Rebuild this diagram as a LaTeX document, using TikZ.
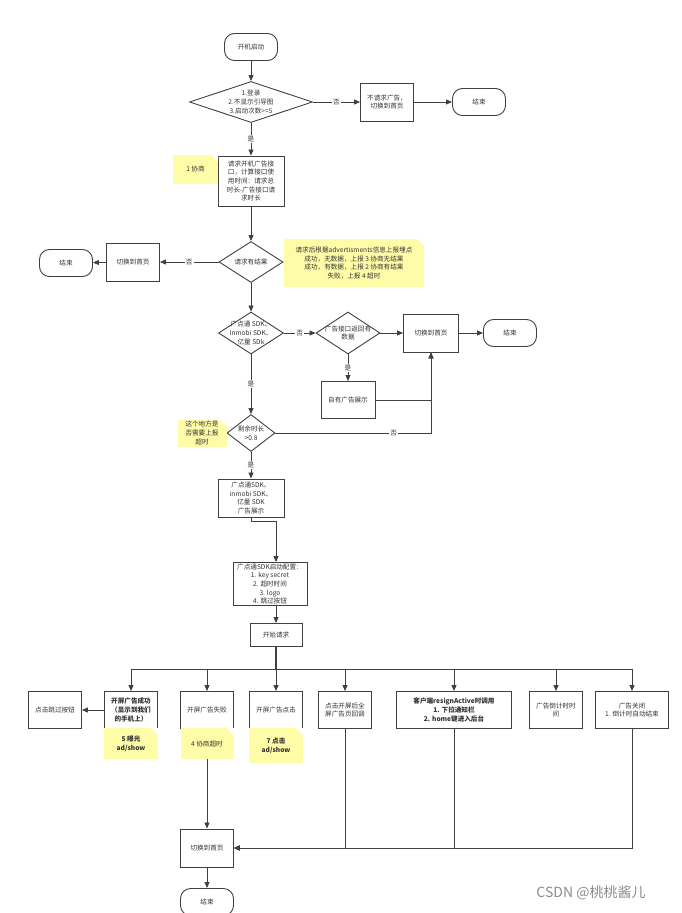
\documentclass[tikz,border=0pt]{standalone}
\usepackage{fontspec}
\setmainfont{Noto Sans CJK SC}
\usepackage{tikz}
\usetikzlibrary{arrows.meta, shapes.geometric}
\usepackage{xcolor}

\definecolor{ink}{RGB}{64,64,64}
\definecolor{notey}{RGB}{255,252,168}
\newcommand\flowfont{\fontsize{6.6}{8.7}\selectfont}

\begin{document}
\begin{tikzpicture}[x=1pt, y=-1pt,
  font=\flowfont, text=black!80,
  term/.style={rectangle, rounded corners=10pt, draw=ink, line width=0.9pt,
               minimum width=53pt, minimum height=27pt, fill=white},
  proc/.style={rectangle, draw=ink, line width=0.9pt, minimum width=53pt,
               minimum height=38pt, align=center, inner sep=1pt, fill=white},
  decide/.style={diamond, draw=ink, line width=0.9pt, inner sep=0pt, fill=white},
  dlab/.style={align=center},
  note/.style={rectangle, fill=notey, align=center, inner sep=1pt,
               path picture={\fill[white] ([xshift=-7pt]path picture bounding box.north east)
                 -- (path picture bounding box.north east)
                 -- ([yshift=-7pt]path picture bounding box.north east) -- cycle;}},
  flow/.style={draw=ink, line width=0.8pt, -{Triangle[length=6pt,width=5pt]}},
  link/.style={draw=ink, line width=1.2pt},
  lbl/.style={fill=white, inner sep=1pt}
]
\useasboundingbox (0,0) rectangle (682,913);
% start and first check
\node[term] (start) at (251,47) {开机启动};
\node[decide, minimum width=123pt, minimum height=41pt,
      label={[dlab]center:{1.登录\\2.不显示引导图\\3.启动次数>=5}}] (d1) at (251,102) {};
\node[proc] (noad) at (387,102) {不请求广告，\\切换到首页};
\node[term] (end1) at (479,102) {结束};
% ad request
\node[proc, minimum width=66pt, minimum height=50pt] (req) at (251,181)
  {请求开机广告接\\口，计算接口使\\用时间：请求总\\时长-广告接口请\\求时长};
\node[decide, minimum width=64pt, minimum height=41pt,
      label={[dlab]center:{请求有结果}}] (d2) at (251,262) {};
\node[proc] (home1) at (133,262) {切换到首页};
\node[term] (end2) at (66,263) {结束};
% sdk branch
\node[decide, minimum width=65pt, minimum height=42pt,
      label={[dlab]center:{广点通 SDK、\\Inmobi SDK、\\亿量 SDk}}] (d3) at (251,333) {};
\node[decide, minimum width=64pt, minimum height=42pt,
      label={[dlab]center:{广告接口返回有\\数据}}] (d4) at (348,333) {};
\node[proc, minimum width=55pt] (home2) at (431,333) {切换到首页};
\node[term] (end3) at (510,333) {结束};
\node[proc, minimum width=54pt, minimum height=37pt] (own) at (348,400) {自有广告展示};
\node[decide, minimum width=48pt, minimum height=37pt,
      label={[dlab]center:{剩余时长\\>0.8}}] (d5) at (251,433) {};
\node[proc, minimum width=66pt] (sdk) at (251,498) {广点通SDK、\\inmobi SDK、\\亿量 SDK\\广告展示};
\node[proc, minimum width=74pt, minimum height=43pt] (cfg) at (270,584)
  {广点通SDK启动配置：\\1. key secret\\2. 超时时间\\3. logo\\4. 跳过按钮};
\node[proc, minimum width=52pt, minimum height=23pt] (go) at (276,635) {开始请求};
% callbacks
\node[proc, minimum height=37pt] (skip) at (55,710) {点击跳过按钮};
\node[proc, minimum height=37pt, font=\flowfont\bfseries] (ok) at (131,710) {开屏广告成功\\（显示到我们\\的手机上）};
\node[proc, minimum height=37pt] (fail) at (207,710) {开屏广告失败};
\node[proc, minimum height=37pt] (click) at (276,710) {开屏广告点击};
\node[proc, minimum height=37pt] (full) at (345,710) {点击开屏后全\\屏广告页回调};
\node[proc, minimum width=115pt, minimum height=37pt, font=\flowfont\bfseries] (resign) at (454,710)
  {客户端resignActive时调用\\1. 下拉通知栏\\2. home键进入后台};
\node[proc, minimum height=37pt] (count) at (556,710) {广告倒计时时\\间};
\node[proc, minimum width=73pt, minimum height=37pt] (close) at (632,710) {广告关闭\\1. 倒计时自动结束};
\node[proc] (home) at (207,848) {切换到首页};
\node[term] (end4) at (207,902) {结束};
\coordinate (bus) at (276,669);
% connectors
\draw[flow] (start) -- (d1);
\draw[flow] (d1) -- node[lbl]{否} (noad);
\draw[flow] (noad) -- (end1);
\draw[flow] (d1) -- node[lbl]{是} (req);
\draw[flow] (req) -- (d2);
\draw[flow] (d2) -- node[lbl]{否} (home1);
\draw[flow] (home1) -- (end2);
\draw[flow] (d2) -- (d3);
\draw[flow] (d3) -- node[lbl]{否} (d4);
\draw[flow] (d4) -- (home2);
\draw[flow] (home2) -- (end3);
\draw[flow] (d4) -- node[lbl]{是} (own);
\draw[flow] (own) -| (home2);
\draw[flow] (d3) -- node[lbl]{是} (d5);
\draw[flow] (d5) -| node[lbl, pos=0.38]{否} (home2);
\draw[flow] (d5) -- node[lbl]{是} (sdk);
\draw[flow] (sdk) -- ++(0,23) -| (go.north |- cfg.north);
\draw[flow] (go.north |- cfg.south) -- (go);
\draw[link] (go) -- (bus);
\foreach \b in {ok,fail,click,full,resign,count,close}
  \draw[flow] (bus) -| (\b);
\draw[flow] (ok) -- (skip);
\draw[flow] (fail) -- (home);
\foreach \b in {full,resign,close}
  \draw[flow] (\b) |- (home);
\draw[flow] (home) -- (end4);
% yellow notes
\node[note, minimum width=45pt, minimum height=29pt] (n1) at (195.5,169) {1 协商};
\node[note, minimum width=140pt, minimum height=48pt] (n2) at (354,263)
  {请求后根据advertisments信息上报埋点\\成功，无数据，上报 3 协商无结果\\成功，有数据，上报 2 协商有结果\\失败，上报 4 超时};
\node[note, minimum width=49pt, minimum height=27pt] (n3) at (202,433) {这个地方是\\否需要上报\\超时};
\node[note, minimum width=54pt, minimum height=31pt, font=\flowfont\bfseries] (n5) at (131,743.5) {5 曝光\\ad/show};
\node[note, minimum width=53pt, minimum height=31pt] (n4) at (207,743.5) {4 协商超时};
\node[note, minimum width=54pt, minimum height=35pt, font=\flowfont\bfseries] (n7) at (276,745.5) {7 点击\\ad/show};
% watermark
\node[font=\fontsize{14}{16}\selectfont, text=black!45] (mark) at (591,893) {CSDN @桃桃酱儿};
\end{tikzpicture}
\end{document}
